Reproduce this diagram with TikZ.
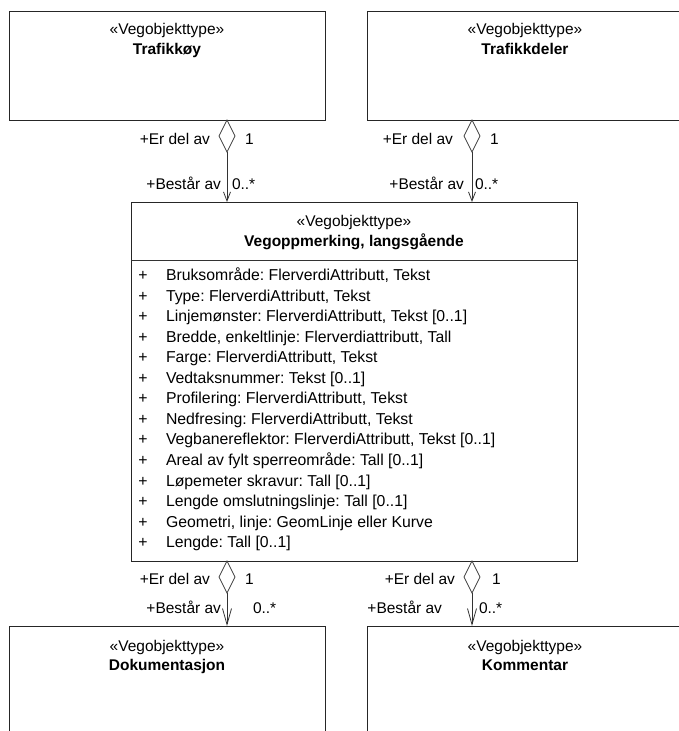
\documentclass[tikz,border=0pt]{standalone}
\usepackage{fontspec}
\setmainfont{Liberation Sans}
\frenchspacing
\usetikzlibrary{shapes.geometric,arrows.meta}
\begin{document}
\begin{tikzpicture}[x=1pt,y=-1pt,
  every node/.style={font=\fontsize{15.5}{18}\selectfont, inner sep=0pt, outer sep=0pt},
  classbox/.style={draw=black!85, line width=0.8pt, anchor=north west, minimum width=316pt, minimum height=109pt},
  agg/.style={draw=black!75, line width=0.8pt, diamond, aspect=0.5, minimum width=16pt, minimum height=32pt, anchor=north},
  assoc/.style={draw=black!80, line width=0.8pt},
  tipsmall/.style={-{Straight Barb[length=9pt,width=7pt,line width=0.8pt]}},
  tipbig/.style={-{Straight Barb[length=16pt,width=9pt,line width=0.8pt]}},
  txt/.style={yshift=-2pt},
  attr/.style={txt, anchor=mid west, font=\fontsize{15.8}{18}\selectfont},
  plus/.style={txt, anchor=mid, font=\fontsize{15.8}{18}\selectfont},
  lbl/.style={txt, anchor=mid east},
  mult/.style={txt, anchor=mid west},
  ster/.style={txt, anchor=mid},
  cname/.style={txt, anchor=mid, font=\fontsize{15.5}{18}\selectfont\bfseries}
]
\useasboundingbox (0,0) rectangle (679,731);
\clip (0,0) rectangle (679,731);

% boxes
\node[classbox] (trafikkoy) at (9,11) {};
\node[classbox] (trafikkdeler) at (367,11) {};
\node[classbox, minimum width=446pt, minimum height=359pt] (main) at (131,202) {};
\node[classbox, minimum height=150pt] (dok) at (9,626) {};
\node[classbox, minimum height=150pt] (komm) at (367,626) {};

% titles
\node[ster] (s1) at (167,30) {«Vegobjekttype»};
\node[cname] (n1) at (167,50) {Trafikkøy};
\node[ster] (s2) at (525,30) {«Vegobjekttype»};
\node[cname] (n2) at (525,50) {Trafikkdeler};
\node[ster] (s3) at (354,222) {«Vegobjekttype»};
\node[cname] (n3) at (354,242) {Vegoppmerking, langsgående};
\node[ster] (s4) at (167,647) {«Vegobjekttype»};
\node[cname] (n4) at (167,666) {Dokumentasjon};
\node[ster] (s5) at (525,647) {«Vegobjekttype»};
\node[cname] (n5) at (525,666) {Kommentar};

% compartment separator
\coordinate (sepL) at (131,260);
\coordinate (sepR) at (577,260);
\draw[assoc] (sepL) -- (sepR);

% attributes
\foreach \i/\t in {0/{Bruksområde: FlerverdiAttributt, Tekst},
                   1/{Type: FlerverdiAttributt, Tekst},
                   2/{Linjemønster: FlerverdiAttributt, Tekst [0..1]},
                   3/{Bredde, enkeltlinje: Flerverdiattributt, Tall},
                   4/{Farge: FlerverdiAttributt, Tekst},
                   5/{Vedtaksnummer: Tekst [0..1]},
                   6/{Profilering: FlerverdiAttributt, Tekst},
                   7/{Nedfresing: FlerverdiAttributt, Tekst},
                   8/{Vegbanereflektor: FlerverdiAttributt, Tekst [0..1]},
                   9/{Areal av fylt sperreområde: Tall [0..1]},
                   10/{Løpemeter skravur: Tall [0..1]},
                   11/{Lengde omslutningslinje: Tall [0..1]},
                   12/{Geometri, linje: GeomLinje eller Kurve},
                   13/{Lengde: Tall [0..1]}}{
  \node[plus] (p\i) at (143,276+\i*20.54) {+};
  \node[attr] (a\i) at (166,276+\i*20.54) {\t};
}

% aggregation diamonds
\node[agg] (d1) at (227,120) {};
\node[agg] (d2) at (472,120) {};
\node[agg] (d3) at (227,561) {};
\node[agg] (d4) at (472,561) {};

% connectors
\draw[assoc, tipsmall] (d1.south) -- (d1.south |- main.north);
\draw[assoc, tipsmall] (d2.south) -- (d2.south |- main.north);
\draw[assoc, tipbig] (d3.south) -- (d3.south |- dok.north);
\draw[assoc, tipbig] (d4.south) -- (d4.south |- komm.north);

% role labels and multiplicities
\node[lbl] (r1a) at (210,139.5) {+Er del av};
\node[mult] (m1a) at (245,139.5) {1};
\node[lbl] (r1b) at (221,185) {+Består av};
\node[mult] (m1b) at (232,185) {0..*};

\node[lbl] (r2a) at (453,139.5) {+Er del av};
\node[mult] (m2a) at (490,139.5) {1};
\node[lbl] (r2b) at (464,185) {+Består av};
\node[mult] (m2b) at (475,185) {0..*};

\node[lbl] (r3a) at (210,580) {+Er del av};
\node[mult] (m3a) at (245,580) {1};
\node[lbl] (r3b) at (221,609) {+Består av};
\node[mult] (m3b) at (253,609) {0..*};

\node[lbl] (r4a) at (455,580) {+Er del av};
\node[mult] (m4a) at (492,580) {1};
\node[lbl] (r4b) at (442,609) {+Består av};
\node[mult] (m4b) at (479,609) {0..*};
\end{tikzpicture}
\end{document}
